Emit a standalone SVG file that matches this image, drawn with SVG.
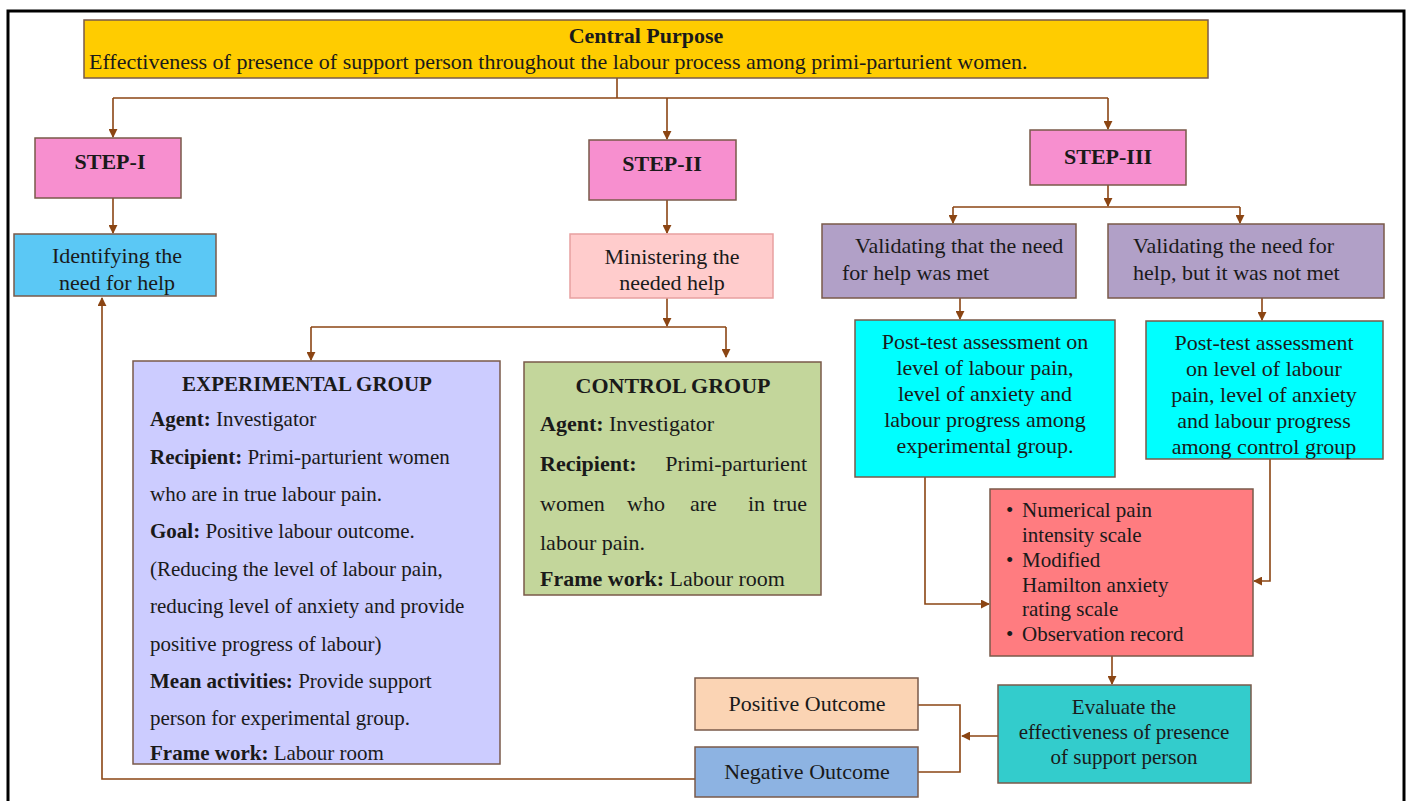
<svg xmlns="http://www.w3.org/2000/svg" width="1411" height="801" viewBox="0 0 1411 801">
<defs>
<marker id="ah" viewBox="0 0 10 10" refX="9" refY="5" markerWidth="9" markerHeight="9" orient="auto-start-reverse" markerUnits="userSpaceOnUse">
<path d="M0,0 L10,5 L0,10 z" fill="#8B4513"/>
</marker>
<style>
.box{stroke:#7a5a4a;stroke-width:1.5}
.t{font-family:"Liberation Serif","Times New Roman",serif;font-size:22px;fill:#1a1a1a}
.s{font-size:21px}
.c{text-anchor:middle}
.b{font-weight:bold}
.conn path{fill:none;stroke:#8B4513;stroke-width:1.6}
</style>
</defs>
<rect x="0" y="0" width="1411" height="801" fill="#ffffff"/>
<rect x="8" y="11" width="1396" height="800" fill="none" stroke="#000" stroke-width="3"/>

<g class="conn">
<path d="M617,78 V98"/>
<path d="M113,98 H1108"/>
<path d="M113,98 V137" marker-end="url(#ah)"/>
<path d="M667,98 V139" marker-end="url(#ah)"/>
<path d="M1108,98 V129" marker-end="url(#ah)"/>
<path d="M113,198 V233" marker-end="url(#ah)"/>
<path d="M667,200 V233" marker-end="url(#ah)"/>
<path d="M667,298 V326" marker-end="url(#ah)"/>
<path d="M311,327 H726"/>
<path d="M311,327 V360" marker-end="url(#ah)"/>
<path d="M726,327 V357" marker-end="url(#ah)"/>
<path d="M1108,185 V206" marker-end="url(#ah)"/>
<path d="M953,207 H1240"/>
<path d="M953,207 V223" marker-end="url(#ah)"/>
<path d="M1240,207 V223" marker-end="url(#ah)"/>
<path d="M960,298 V319" marker-end="url(#ah)"/>
<path d="M1262,298 V320" marker-end="url(#ah)"/>
<path d="M925,477 V604 H989" marker-end="url(#ah)"/>
<path d="M1270,459 V581 H1254" marker-end="url(#ah)"/>
<path d="M1112,656 V684" marker-end="url(#ah)"/>
<path d="M998,736 H962" marker-end="url(#ah)"/>
<path d="M918,705 H960 V772 H918"/>
<path d="M695,779 H102 V298" marker-end="url(#ah)"/>
</g>

<g id="central">
<rect class="box" x="84" y="20" width="1124" height="58" fill="#FFCC00" stroke="#9c7b2e"/>
<text class="t c b" x="646" y="43">Central Purpose</text>
<text class="t" x="89" y="69">Effectiveness of presence of support person throughout the labour process among primi-parturient women.</text>
</g>

<g id="step1">
<rect class="box" x="35" y="138" width="146" height="60" fill="#F78FCF"/>
<text class="t c b" x="110" y="169">STEP-I</text>
</g>
<g id="step2">
<rect class="box" x="589" y="140" width="147" height="60" fill="#F78FCF"/>
<text class="t c b" x="662" y="171">STEP-II</text>
</g>
<g id="step3">
<rect class="box" x="1030" y="130" width="156" height="55" fill="#F78FCF"/>
<text class="t c b" x="1108" y="164">STEP-III</text>
</g>

<g id="identify">
<rect class="box" x="14" y="234" width="202" height="62" fill="#5BC8F5"/>
<text class="t c" x="117" y="263" fill="#1f2a44">Identifying the</text>
<text class="t c" x="117" y="290" fill="#1f2a44">need for help</text>
</g>

<g id="minister">
<rect x="570" y="234" width="203" height="64" fill="#FFCCCC" stroke="#e8a0a0" stroke-width="1.5"/>
<text class="t c" x="672" y="264" fill="#333">Ministering the</text>
<text class="t c" x="672" y="290" fill="#333">needed help</text>
</g>

<g id="experimental">
<rect class="box" x="133" y="361" width="367" height="403" fill="#CCCCFF"/>
<text class="t s c b" x="307" y="391">EXPERIMENTAL GROUP</text>
<text class="t s" x="150" y="426"><tspan font-weight="bold">Agent:</tspan> Investigator</text>
<text class="t s" x="150" y="464"><tspan font-weight="bold">Recipient:</tspan> Primi-parturient women</text>
<text class="t s" x="150" y="501">who are in true labour pain.</text>
<text class="t s" x="150" y="538"><tspan font-weight="bold">Goal:</tspan> Positive labour outcome.</text>
<text class="t s" x="150" y="576">(Reducing the level of labour pain,</text>
<text class="t s" x="150" y="613">reducing level of anxiety and provide</text>
<text class="t s" x="150" y="651">positive progress of labour)</text>
<text class="t s" x="150" y="688"><tspan font-weight="bold">Mean activities:</tspan> Provide support</text>
<text class="t s" x="150" y="725">person for experimental group.</text>
<text class="t s" x="150" y="760"><tspan font-weight="bold">Frame work:</tspan> Labour room</text>
</g>

<g id="control">
<rect class="box" x="524" y="362" width="297" height="233" fill="#C3D69B"/>
<text class="t c b" x="673" y="393">CONTROL GROUP</text>
<text class="t" x="540" y="431"><tspan font-weight="bold">Agent:</tspan> Investigator</text>
<text class="t b" x="540" y="471">Recipient:</text>
<text class="t" x="807" y="471" text-anchor="end">Primi-parturient</text>
<text class="t" x="540" y="511">women</text>
<text class="t" x="627" y="511">who</text>
<text class="t" x="690" y="511">are</text>
<text class="t" x="748" y="511">in</text>
<text class="t" x="807" y="511" text-anchor="end">true</text>
<text class="t" x="540" y="550">labour pain.</text>
<text class="t" x="540" y="586"><tspan font-weight="bold">Frame work:</tspan> Labour room</text>
</g>

<g id="valid1">
<rect class="box" x="822" y="224" width="254" height="74" fill="#B1A0C7"/>
<text class="t" x="855" y="253">Validating that the need</text>
<text class="t" x="842" y="280">for help was met</text>
</g>
<g id="valid2">
<rect class="box" x="1108" y="224" width="276" height="74" fill="#B1A0C7"/>
<text class="t" x="1133" y="253">Validating the need for</text>
<text class="t" x="1133" y="280">help, but it was not met</text>
</g>

<g id="post1">
<rect class="box" x="855" y="320" width="260" height="157" fill="#00FFFF" stroke="#4a6a6a"/>
<text class="t c" x="985" y="349">Post-test assessment on</text>
<text class="t c" x="985" y="375">level of labour pain,</text>
<text class="t c" x="985" y="401">level of anxiety and</text>
<text class="t c" x="985" y="427">labour progress among</text>
<text class="t c" x="985" y="453">experimental group.</text>
</g>
<g id="post2">
<rect class="box" x="1146" y="321" width="237" height="138" fill="#00FFFF" stroke="#4a6a6a"/>
<text class="t c" x="1264" y="350">Post-test assessment</text>
<text class="t c" x="1264" y="376">on level of labour</text>
<text class="t c" x="1264" y="402">pain, level of anxiety</text>
<text class="t c" x="1264" y="428">and labour progress</text>
<text class="t c" x="1264" y="454">among control group</text>
</g>

<g id="tools">
<rect class="box" x="990" y="489" width="263" height="167" fill="#FF7C80"/>
<text class="t s" x="1006" y="517">•</text>
<text class="t s" x="1022" y="517">Numerical pain</text>
<text class="t s" x="1022" y="542">intensity scale</text>
<text class="t s" x="1006" y="567">•</text>
<text class="t s" x="1022" y="567">Modified</text>
<text class="t s" x="1022" y="592">Hamilton anxiety</text>
<text class="t s" x="1022" y="616">rating scale</text>
<text class="t s" x="1006" y="641">•</text>
<text class="t s" x="1022" y="641">Observation record</text>
</g>

<g id="evaluate">
<rect class="box" x="998" y="685" width="253" height="98" fill="#33CCCC"/>
<text class="t s c" x="1124" y="714">Evaluate the</text>
<text class="t s c" x="1124" y="739">effectiveness of presence</text>
<text class="t s c" x="1124" y="764">of support person</text>
</g>

<g id="positive">
<rect class="box" x="695" y="678" width="223" height="52" fill="#FBD4B4"/>
<text class="t c" x="807" y="711">Positive Outcome</text>
</g>
<g id="negative">
<rect class="box" x="695" y="747" width="223" height="50" fill="#8DB3E2"/>
<text class="t c" x="807" y="779">Negative Outcome</text>
</g>
</svg>
